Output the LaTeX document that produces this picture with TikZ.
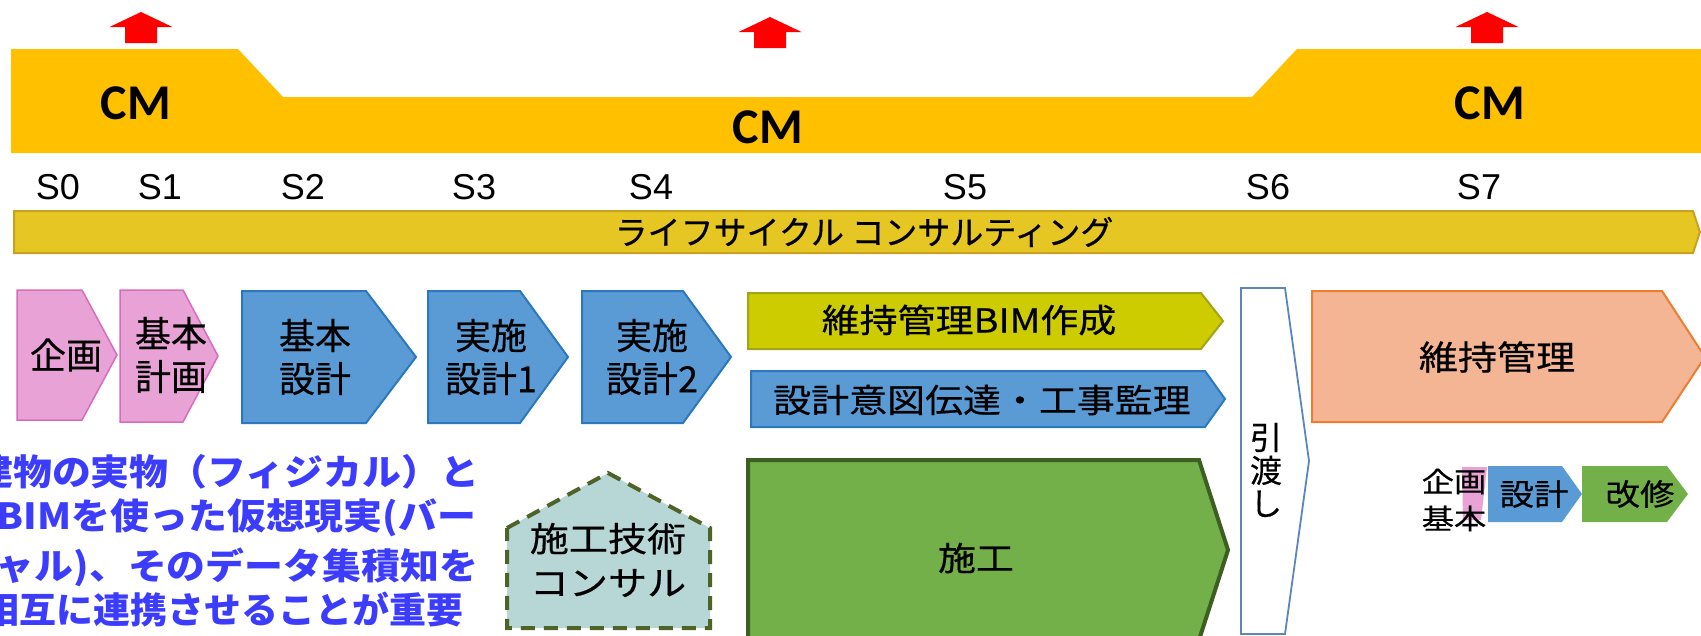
\documentclass[tikz,border=0pt]{standalone}
\usepackage{fontspec}
\newfontfamily\jp[FakeBold=0.5]{Noto Sans CJK JP}
\newfontfamily\jpw[FakeStretch=1.15,FakeBold=0.5]{Noto Sans CJK JP}
\newfontfamily\jpb[FakeStretch=1.08]{Noto Sans CJK JP}
\newfontfamily\carl{Carlito}
\newfontfamily\arl{Liberation Sans}
\definecolor{cmgold}{HTML}{FFC000}
\definecolor{lcF}{HTML}{E6C622}
\definecolor{lcD}{HTML}{C9A020}
\definecolor{pinkF}{HTML}{E8A2D5}
\definecolor{pinkD}{HTML}{D86CBC}
\definecolor{blueF}{HTML}{5B9BD5}
\definecolor{blueD}{HTML}{2A78C0}
\definecolor{ygF}{HTML}{CCCC00}
\definecolor{ygD}{HTML}{A3A31A}
\definecolor{greenF}{HTML}{74B04A}
\definecolor{greenD}{HTML}{3E5F22}
\definecolor{orF}{HTML}{F4B594}
\definecolor{orD}{HTML}{ED7D31}
\definecolor{houseF}{HTML}{B7D6D6}
\definecolor{houseD}{HTML}{4F6228}
\definecolor{handD}{HTML}{5B86BC}
\definecolor{blueT}{HTML}{3C3CFF}
\definecolor{arrowred}{HTML}{FF0000}
\begin{document}
\begin{tikzpicture}[x=1pt,y=-1pt,
  every node/.style={inner sep=0pt,outer sep=0pt},
  pinkbox/.style={fill=pinkF,draw=pinkD,line width=1.5pt},
  bluebox/.style={fill=blueF,draw=blueD,line width=2pt},
  ygbox/.style={fill=ygF,draw=ygD,line width=2pt},
  greenbox/.style={fill=greenF,draw=greenD,line width=4pt},
  orbox/.style={fill=orF,draw=orD,line width=2pt},
  cmtxt/.style={font=\carl\bfseries\fontsize{50}{56}\selectfont},
  stxt/.style={font=\arl\fontsize{36}{40}\selectfont},
  bigtxt/.style={font=\jp\fontsize{36}{43}\selectfont,align=center},
  widetxt/.style={font=\jpw\fontsize{33}{44}\selectfont,align=center},
  smalltxt/.style={font=\jpw\fontsize{28}{37}\selectfont,align=center},
  bluetxt/.style={font=\jpb\bfseries\fontsize{36}{40}\selectfont,text=blueT,anchor=east},
  uparrow/.pic={\fill[arrowred] (-31.5,15) -- (0,0) -- (31.5,15) -- (16,15) -- (16,31) -- (-16,31) -- (-16,15) -- cycle;}
]
\useasboundingbox (0,0) rectangle (1701,635);
\clip (0,0) rectangle (1701,635);
\fill[white] (0,0) rectangle (1701,635);

% red arrows
\pic at (141,12) {uparrow};
\pic at (770,17) {uparrow};
\pic at (1487,12) {uparrow};

% CM band
\fill[cmgold] (11,49) -- (238,49) -- (283,97) -- (1252,97) -- (1297,49) -- (1701,49) -- (1701,153) -- (11,153) -- cycle;
\node[cmtxt] (cm1) at (136,103) {CM};
\node[cmtxt] (cm2) at (768,127) {CM};
\node[cmtxt] (cm3) at (1490,103) {CM};

% stage labels
\node[stxt] (s0) at (58,187) {S0};
\node[stxt] (s1) at (160,187) {S1};
\node[stxt] (s2) at (303,187) {S2};
\node[stxt] (s3) at (474,187) {S3};
\node[stxt] (s4) at (651,187) {S4};
\node[stxt] (s5) at (965,187) {S5};
\node[stxt] (s6) at (1268,187) {S6};
\node[stxt] (s7) at (1479,187) {S7};

% life cycle bar
\path[fill=lcF,draw=lcD,line width=2pt] (14,211) -- (1693,211) -- (1700,232) -- (1693,253) -- (14,253) -- cycle;
\node[font=\jp\fontsize{33}{36}\selectfont] (lc) at (864,232) {ライフサイクル コンサルティング};

% top row chevrons
\path[pinkbox] (17,290) -- (82,290) -- (117,355) -- (82,420) -- (17,420) -- cycle;
\node[bigtxt] (kikaku) at (66,355) {企画};
\path[pinkbox] (120,290) -- (183,290) -- (218,356) -- (183,422) -- (120,422) -- cycle;
\node[bigtxt] (kihonkeikaku) at (171,355) {基本\\計画};
\path[bluebox] (242,291) -- (366,291) -- (416,357) -- (366,423) -- (242,423) -- cycle;
\node[bigtxt] (kihonsekkei) at (315,357) {基本\\設計};
\path[bluebox] (428,291) -- (520,291) -- (568,357) -- (520,423) -- (428,423) -- cycle;
\node[bigtxt] (jisshi1) at (491,357) {実施\\設計1};
\path[bluebox] (582,291) -- (683,291) -- (731,357) -- (683,423) -- (582,423) -- cycle;
\node[bigtxt] (jisshi2) at (652,357) {実施\\設計2};

% middle chevrons
\path[ygbox] (748,293) -- (1201,293) -- (1223,321) -- (1201,349) -- (748,349) -- cycle;
\node[widetxt] (bim) at (969,320) {維持管理BIM作成};
\path[bluebox] (751,371) -- (1205,371) -- (1225,399) -- (1205,427) -- (751,427) -- cycle;
\node[widetxt] (kanri) at (982,400) {設計意図伝達・工事監理};
\path[greenbox] (748,460) -- (1199,460) -- (1228,550) -- (1199,640) -- (748,640) -- cycle;
\node[widetxt] (seko) at (976,558) {施工};

% handover
\path[fill=white,draw=handD,line width=1.8pt] (1241,288) -- (1285,288) -- (1309,461) -- (1285,634) -- (1241,634) -- cycle;
\node[font=\jp\fontsize{32}{33}\selectfont,align=center] (hiki) at (1266,470) {引\\渡\\し};

% maintenance
\path[orbox] (1312,291) -- (1662,291) -- (1705,357) -- (1662,422) -- (1312,422) -- cycle;
\node[widetxt,font=\jpw\fontsize{34}{40}\selectfont] (iji) at (1497,357) {維持管理};

% small chevrons
\fill[pinkF] (1462,467) -- (1487,467) -- (1481,520) -- (1463,520) -- cycle;
\fill[blueF] (1488,466) -- (1562,466) -- (1582,494) -- (1562,522) -- (1488,522) -- cycle;
\fill[greenF] (1582,466) -- (1667,466) -- (1688,494) -- (1667,522) -- (1582,522) -- cycle;
\node[smalltxt] (kk) at (1454,500) {企画\\基本};
\node[smalltxt,font=\jpw\fontsize{30}{36}\selectfont] (sk) at (1534,494) {設計};
\node[smalltxt,font=\jpw\fontsize{30}{36}\selectfont] (ks) at (1640,494) {改修};

% construction consulting house
\path[fill=houseF,draw=houseD,line width=4pt,dash pattern=on 14pt off 9pt] (507,528) -- (608,473) -- (710,528) -- (710,628) -- (507,628) -- cycle;
\node[widetxt,font=\jpw\fontsize{34}{44}\selectfont] (gijutsu) at (608,560) {施工技術\\コンサル};

% blue statement
\node[bluetxt] (l1) at (479,472) {建物の実物（フィジカル）と};
\node[bluetxt] (l2) at (476,518) {BIMを使った仮想現実(バー};
\node[bluetxt] (l3) at (478,567) {チャル)、そのデータ集積知を};
\node[bluetxt] (l4) at (463,610) {\scalebox{0.95}[1]{相互に連携させることが重要}};
\end{tikzpicture}
\end{document}
